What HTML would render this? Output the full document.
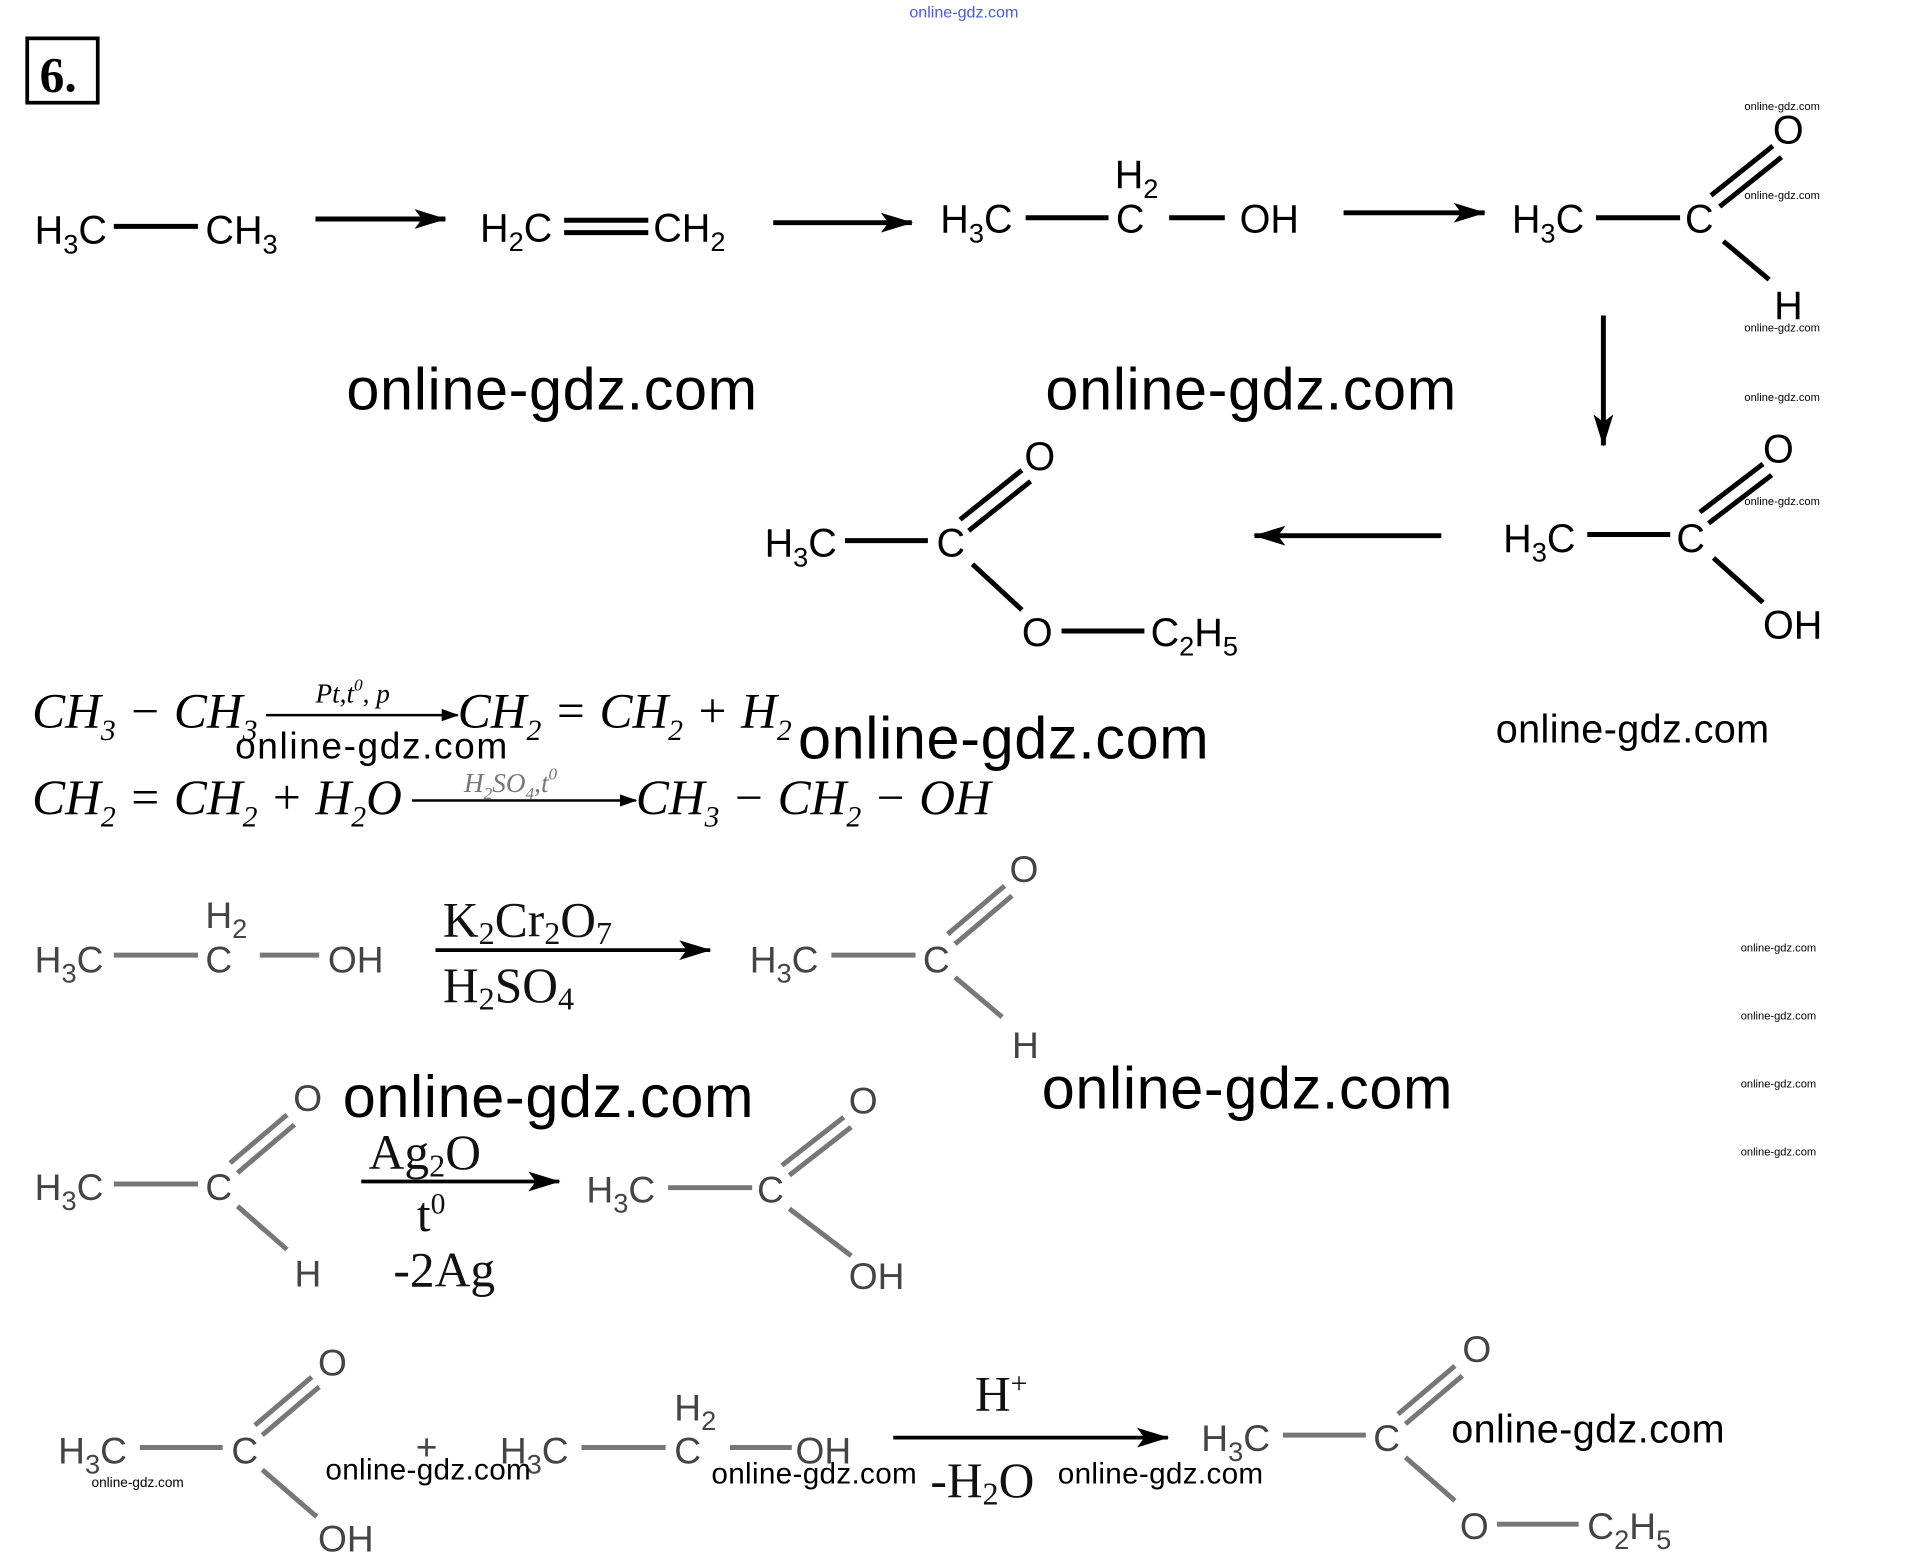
<!DOCTYPE html>
<html><head><meta charset="utf-8"><style>
html,body{margin:0;padding:0;background:#fff;width:1930px;height:1557px;overflow:hidden}
svg{display:block}
.c{font-family:"Liberation Sans",sans-serif;font-size:32px;fill:#000}
.g{font-family:"Liberation Sans",sans-serif;font-size:30px;fill:#444}
.s{font-size:22px}
.w{font-family:"Liberation Sans",sans-serif;fill:#000}
.m{font-family:"Liberation Serif",serif;font-style:italic;font-size:40px;fill:#000}
.r{font-family:"Liberation Serif",serif;font-size:40px;fill:#111}
</style></head><body>
<svg width="1930" height="1557" viewBox="0 0 1560 1258.5" xmlns="http://www.w3.org/2000/svg">
<defs>
<marker id="a" markerWidth="26" markerHeight="16" refX="25" refY="8" orient="auto" markerUnits="userSpaceOnUse" viewBox="0 0 26 16"><path d="M0,0 L26,8 L0,16 L6,8 z" fill="#000"/></marker>
<marker id="b" markerWidth="14" markerHeight="10" refX="13" refY="5" orient="auto" markerUnits="userSpaceOnUse" viewBox="0 0 14 10"><path d="M0,0 L14,5 L0,10 z" fill="#000"/></marker>
</defs>
<rect x="22" y="31" width="57" height="52" stroke="#000" stroke-width="3" fill="none"/>
<text x="32" y="74" style="font-family:'Liberation Serif',serif;font-weight:bold;font-size:40px">6.</text>
<text x="735" y="14" style="font-family:'Liberation Sans',sans-serif;font-size:13px;fill:#4a5cd0">online-gdz.com</text>

<g class="c">
<text x="28" y="197">H<tspan class="s" dy="8">3</tspan><tspan dy="-8">C</tspan></text>
<text x="166" y="197">CH<tspan class="s" dy="8">3</tspan></text>
<text x="388" y="195">H<tspan class="s" dy="8">2</tspan><tspan dy="-8">C</tspan></text>
<text x="528" y="195">CH<tspan class="s" dy="8">2</tspan></text>
<text x="760" y="188">H<tspan class="s" dy="8">3</tspan><tspan dy="-8">C</tspan></text>
<text x="902" y="188">C</text>
<text x="901" y="152">H<tspan class="s" dy="8">2</tspan></text>
<text x="1002" y="188">OH</text>
<text x="1222" y="188">H<tspan class="s" dy="8">3</tspan><tspan dy="-8">C</tspan></text>
<text x="1362" y="188">C</text>
<text x="1433" y="116">O</text>
<text x="1434" y="258">H</text>
<text x="1215" y="446">H<tspan class="s" dy="8">3</tspan><tspan dy="-8">C</tspan></text>
<text x="1355" y="446">C</text>
<text x="1425" y="374">O</text>
<text x="1425" y="516">OH</text>
<text x="618" y="450">H<tspan class="s" dy="8">3</tspan><tspan dy="-8">C</tspan></text>
<text x="757" y="450">C</text>
<text x="828" y="380">O</text>
<text x="826" y="522">O</text>
<text x="930" y="522">C<tspan class="s" dy="8">2</tspan><tspan dy="-8">H</tspan><tspan class="s" dy="8">5</tspan></text>
</g>
<g stroke="#000" stroke-width="4" fill="none">
<line x1="92" y1="183" x2="160" y2="183"/>
<line x1="255" y1="177" x2="360" y2="177" marker-end="url(#a)"/>
<line x1="456" y1="178" x2="524" y2="178"/><line x1="456" y1="188" x2="524" y2="188"/>
<line x1="625" y1="180" x2="737" y2="180" marker-end="url(#a)"/>
<line x1="829" y1="176" x2="896" y2="176"/>
<line x1="945" y1="176" x2="990" y2="176"/>
<line x1="1086" y1="172" x2="1200" y2="172" marker-end="url(#a)"/>
<line x1="1290" y1="176" x2="1358" y2="176"/>
<line x1="1383" y1="158" x2="1433" y2="118"/><line x1="1390" y1="167" x2="1440" y2="127"/>
<line x1="1393" y1="195" x2="1430" y2="226"/>
<line x1="1296" y1="255" x2="1296" y2="360" marker-end="url(#a)"/>
<line x1="1283" y1="432" x2="1350" y2="432"/>
<line x1="1374" y1="414" x2="1425" y2="375"/><line x1="1381" y1="423" x2="1432" y2="384"/>
<line x1="1385" y1="451" x2="1425" y2="487"/>
<line x1="1165" y1="433" x2="1014" y2="433" marker-end="url(#a)"/>
<line x1="683" y1="437" x2="750" y2="437"/>
<line x1="776" y1="420" x2="826" y2="380"/><line x1="783" y1="429" x2="833" y2="389"/>
<line x1="786" y1="456" x2="826" y2="493"/>
<line x1="858" y1="510" x2="925" y2="510"/>
</g>

<!-- equations -->
<text class="m" x="26" y="588">CH<tspan style="font-size:24px" dy="10">3</tspan><tspan dy="-10"> − CH</tspan><tspan style="font-size:24px" dy="10">3</tspan></text>
<text class="m" x="255" y="568" style="font-size:22px">Pt,t<tspan style="font-size:14px" dy="-10">0</tspan><tspan dy="10">, p</tspan></text>
<line x1="215" y1="578" x2="370" y2="578" stroke="#000" stroke-width="2" marker-end="url(#b)"/>
<text class="m" x="370" y="588">CH<tspan style="font-size:24px" dy="10">2</tspan><tspan dy="-10"> = CH</tspan><tspan style="font-size:24px" dy="10">2</tspan><tspan dy="-10"> + H</tspan><tspan style="font-size:24px" dy="10">2</tspan></text>
<text class="m" x="26" y="658">CH<tspan style="font-size:24px" dy="10">2</tspan><tspan dy="-10"> = CH</tspan><tspan style="font-size:24px" dy="10">2</tspan><tspan dy="-10"> + H</tspan><tspan style="font-size:24px" dy="10">2</tspan><tspan dy="-10">O</tspan></text>
<text class="m" x="375" y="640" style="font-size:22px;fill:#777">H<tspan style="font-size:14px" dy="6">2</tspan><tspan dy="-6">SO</tspan><tspan style="font-size:14px" dy="6">4</tspan><tspan dy="-6">,t</tspan><tspan style="font-size:14px" dy="-10">0</tspan></text>
<line x1="333" y1="647" x2="514" y2="647" stroke="#000" stroke-width="2" marker-end="url(#b)"/>
<text class="m" x="514" y="658">CH<tspan style="font-size:24px" dy="10">3</tspan><tspan dy="-10"> − CH</tspan><tspan style="font-size:24px" dy="10">2</tspan><tspan dy="-10"> − OH</tspan></text>

<g class="g">
<text x="28" y="786">H<tspan class="s" dy="8">3</tspan><tspan dy="-8">C</tspan></text>
<text x="166" y="786">C</text><text x="166" y="750">H<tspan class="s" dy="8">2</tspan></text>
<text x="265" y="786">OH</text>
<text x="606" y="786">H<tspan class="s" dy="8">3</tspan><tspan dy="-8">C</tspan></text>
<text x="746" y="786">C</text><text x="816" y="713">O</text><text x="818" y="855">H</text>
<text x="28" y="970">H<tspan class="s" dy="8">3</tspan><tspan dy="-8">C</tspan></text>
<text x="166" y="970">C</text><text x="237" y="898">O</text><text x="238" y="1040">H</text>
<text x="474" y="972">H<tspan class="s" dy="8">3</tspan><tspan dy="-8">C</tspan></text>
<text x="612" y="972">C</text><text x="686" y="900">O</text><text x="686" y="1042">OH</text>
<text x="47" y="1183">H<tspan class="s" dy="8">3</tspan><tspan dy="-8">C</tspan></text>
<text x="187" y="1183">C</text><text x="257" y="1112">O</text><text x="257" y="1254">OH</text>
<text x="336" y="1180">+</text>
<text x="404" y="1183">H<tspan class="s" dy="8">3</tspan><tspan dy="-8">C</tspan></text>
<text x="545" y="1183">C</text><text x="545" y="1148">H<tspan class="s" dy="8">2</tspan></text>
<text x="643" y="1183">OH</text>
<text x="971" y="1173">H<tspan class="s" dy="8">3</tspan><tspan dy="-8">C</tspan></text>
<text x="1110" y="1173">C</text><text x="1182" y="1101">O</text><text x="1180" y="1244">O</text>
<text x="1283" y="1244">C<tspan class="s" dy="8">2</tspan><tspan dy="-8">H</tspan><tspan class="s" dy="8">5</tspan></text>
</g>
<g stroke="#777" stroke-width="4" fill="none">
<line x1="92" y1="772" x2="160" y2="772"/><line x1="210" y1="772" x2="258" y2="772"/>
<line x1="672" y1="772" x2="740" y2="772"/>
<line x1="766" y1="755" x2="812" y2="716"/><line x1="772" y1="763" x2="818" y2="724"/>
<line x1="772" y1="790" x2="810" y2="822"/>
<line x1="92" y1="957" x2="160" y2="957"/>
<line x1="186" y1="940" x2="232" y2="901"/><line x1="192" y1="948" x2="238" y2="909"/>
<line x1="192" y1="975" x2="232" y2="1010"/>
<line x1="540" y1="960" x2="608" y2="960"/>
<line x1="632" y1="942" x2="682" y2="903"/><line x1="638" y1="950" x2="688" y2="911"/>
<line x1="638" y1="977" x2="688" y2="1015"/>
<line x1="113" y1="1170" x2="180" y2="1170"/>
<line x1="206" y1="1152" x2="252" y2="1113"/><line x1="212" y1="1160" x2="258" y2="1121"/>
<line x1="212" y1="1188" x2="256" y2="1226"/>
<line x1="470" y1="1170" x2="538" y2="1170"/><line x1="590" y1="1170" x2="640" y2="1170"/>
<line x1="1037" y1="1160" x2="1104" y2="1160"/>
<line x1="1130" y1="1143" x2="1176" y2="1104"/><line x1="1136" y1="1151" x2="1182" y2="1112"/>
<line x1="1136" y1="1178" x2="1176" y2="1213"/>
<line x1="1210" y1="1232" x2="1276" y2="1232"/>
</g>
<g stroke="#000" stroke-width="3" fill="none">
<line x1="352" y1="768" x2="574" y2="768" marker-end="url(#a)"/>
<line x1="292" y1="955" x2="452" y2="955" marker-end="url(#a)"/>
<line x1="722" y1="1162" x2="944" y2="1162" marker-end="url(#a)"/>
</g>
<g class="r">
<text x="358" y="757">K<tspan style="font-size:26px" dy="6">2</tspan><tspan dy="-6">Cr</tspan><tspan style="font-size:26px" dy="6">2</tspan><tspan dy="-6">O</tspan><tspan style="font-size:26px" dy="6">7</tspan></text>
<text x="358" y="810">H<tspan style="font-size:26px" dy="6">2</tspan><tspan dy="-6">SO</tspan><tspan style="font-size:26px" dy="6">4</tspan></text>
<text x="298" y="945">Ag<tspan style="font-size:26px" dy="6">2</tspan><tspan dy="-6">O</tspan></text>
<text x="337" y="995">t<tspan style="font-size:24px" dy="-14">0</tspan></text>
<text x="318" y="1040">-2Ag</text>
<text x="788" y="1140">H<tspan style="font-size:24px" dy="-14">+</tspan></text>
<text x="752" y="1210">-H<tspan style="font-size:26px" dy="6">2</tspan><tspan dy="-6">O</tspan></text>
</g>

<g class="w">
<text x="280" y="331" font-size="48" textLength="332">online-gdz.com</text>
<text x="845" y="331" font-size="48" textLength="332">online-gdz.com</text>
<text x="645" y="613" font-size="48" textLength="332">online-gdz.com</text>
<text x="1209" y="600" font-size="32" textLength="221">online-gdz.com</text>
<text x="190" y="613" font-size="30" textLength="220">online-gdz.com</text>
<text x="277" y="903" font-size="48" textLength="332">online-gdz.com</text>
<text x="842" y="896" font-size="48" textLength="332">online-gdz.com</text>
<text x="1173" y="1166" font-size="32" textLength="221">online-gdz.com</text>
<text x="263" y="1196" font-size="24" textLength="166">online-gdz.com</text>
<text x="575" y="1199" font-size="24" textLength="166">online-gdz.com</text>
<text x="855" y="1199" font-size="24" textLength="166">online-gdz.com</text>
<text x="74" y="1202" font-size="11">online-gdz.com</text>
<text x="1410" y="89" font-size="9">online-gdz.com</text>
<text x="1410" y="161" font-size="9">online-gdz.com</text>
<text x="1410" y="268" font-size="9">online-gdz.com</text>
<text x="1410" y="324" font-size="9">online-gdz.com</text>
<text x="1410" y="408" font-size="9">online-gdz.com</text>
<text x="1407" y="769" font-size="9">online-gdz.com</text>
<text x="1407" y="824" font-size="9">online-gdz.com</text>
<text x="1407" y="879" font-size="9">online-gdz.com</text>
<text x="1407" y="934" font-size="9">online-gdz.com</text>
</g>
</svg>
</body></html>
